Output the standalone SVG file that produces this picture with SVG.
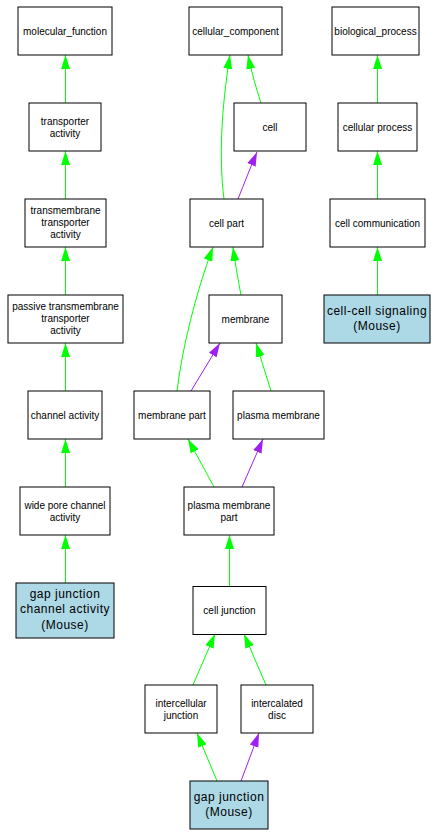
<svg xmlns="http://www.w3.org/2000/svg" width="438" height="836" viewBox="0 0 438 836">
<style>
.n rect{fill:#ffffff;stroke:#000000;stroke-width:1}
.m rect{fill:#add8e6;stroke:#000000;stroke-width:1}
.n text{font-family:"Liberation Sans",Arial,sans-serif;font-size:10px;fill:#000000;text-anchor:middle}
.m text{font-family:"Liberation Sans",Arial,sans-serif;font-size:12px;letter-spacing:0.5px;fill:#000000;text-anchor:middle}
.g{fill:none;stroke:#00ff00;stroke-width:1;marker-end:url(#ag)}
.p{fill:none;stroke:#a020f0;stroke-width:1;marker-end:url(#ap)}
</style>
<defs>
<marker id="ag" markerUnits="userSpaceOnUse" markerWidth="16" markerHeight="12" refX="14" refY="5" orient="auto" viewBox="0 0 16 10">
<path d="M0,0.5 L14,5 L0,9.5 Z" fill="#00ff00"/>
</marker>
<marker id="ap" markerUnits="userSpaceOnUse" markerWidth="16" markerHeight="12" refX="14" refY="5" orient="auto" viewBox="0 0 16 10">
<path d="M0,0.5 L14,5 L0,9.5 Z" fill="#a020f0"/>
</marker>
</defs>
<rect x="0" y="0" width="438" height="836" fill="#ffffff"/>
<g id="connectors">
<path class="g" d="M65.5,103 L65.5,55"/>
<path class="g" d="M65.5,199 L65.5,151"/>
<path class="g" d="M65.5,295 L65.5,247"/>
<path class="g" d="M65.5,391 L65.5,343"/>
<path class="g" d="M65.5,487 L65.5,439"/>
<path class="g" d="M65.5,583 L65.5,535"/>
<path class="g" d="M377.5,103 L377.5,55"/>
<path class="g" d="M377.5,199 L377.5,151"/>
<path class="g" d="M377.5,295 L377.5,247"/>
<path class="g" d="M224,199 C219,160 221,110 230,55"/>
<path class="g" d="M261,103 C256,88 251,70 248,55"/>
<path class="p" d="M238,199 C244,184 251,166 257,152"/>
<path class="g" d="M177,391 C182,350 195,295 213,247"/>
<path class="g" d="M241,295 C238,280 235,262 233,247"/>
<path class="p" d="M191,391 L220,343"/>
<path class="g" d="M271,391 L256,343"/>
<path class="g" d="M214,487 L188,439"/>
<path class="p" d="M242,487 L263,439"/>
<path class="g" d="M229.5,586 L229.5,535"/>
<path class="g" d="M193,685 L215,634"/>
<path class="g" d="M266,685 L244,634"/>
<path class="g" d="M217,781 L197,733"/>
<path class="p" d="M241,781 L259,733"/>
</g>
<g id="molecular_function" class="n"><rect x="18" y="7" width="94" height="48"/><text x="65" y="35">molecular_function</text></g>
<g id="transporter_activity" class="n"><rect x="29" y="103" width="72" height="48"/><text x="65" y="124.5">transporter</text><text x="65" y="136.5">activity</text></g>
<g id="transmembrane_transporter_activity" class="n"><rect x="25" y="199" width="81" height="48"/><text x="65.5" y="214">transmembrane</text><text x="65.5" y="226">transporter</text><text x="65.5" y="238">activity</text></g>
<g id="passive_transmembrane_transporter_activity" class="n"><rect x="8" y="295" width="115" height="48"/><text x="65.5" y="310">passive transmembrane</text><text x="65.5" y="322">transporter</text><text x="65.5" y="334">activity</text></g>
<g id="channel_activity" class="n"><rect x="28" y="391" width="74" height="48"/><text x="65" y="418.5">channel activity</text></g>
<g id="wide_pore_channel_activity" class="n"><rect x="20" y="487" width="90" height="48"/><text x="65" y="508.5">wide pore channel</text><text x="65" y="520.5">activity</text></g>
<g id="gap_junction_channel_activity" class="m"><rect x="16" y="583" width="98" height="55"/><text x="65" y="597.5">gap junction</text><text x="65" y="613">channel activity</text><text x="65" y="628.5">(Mouse)</text></g>
<g id="cellular_component" class="n"><rect x="189" y="7" width="93" height="48"/><text x="235.5" y="35">cellular_component</text></g>
<g id="cell" class="n"><rect x="234" y="103" width="72" height="48"/><text x="270" y="130.5">cell</text></g>
<g id="cell_part" class="n"><rect x="190" y="199" width="73" height="48"/><text x="226.5" y="226.5">cell part</text></g>
<g id="membrane" class="n"><rect x="209" y="295" width="73" height="48"/><text x="245.5" y="322.5">membrane</text></g>
<g id="membrane_part" class="n"><rect x="134" y="391" width="76" height="48"/><text x="172" y="418.5">membrane part</text></g>
<g id="plasma_membrane" class="n"><rect x="233" y="391" width="91" height="48"/><text x="278.5" y="418.5">plasma membrane</text></g>
<g id="plasma_membrane_part" class="n"><rect x="184" y="487" width="90" height="48"/><text x="229" y="508.5">plasma membrane</text><text x="229" y="520.5">part</text></g>
<g id="cell_junction" class="n"><rect x="193" y="586.5" width="73" height="48"/><text x="229.5" y="614">cell junction</text></g>
<g id="intercellular_junction" class="n"><rect x="145" y="685" width="72" height="48"/><text x="181" y="706.5">intercellular</text><text x="181" y="718.5">junction</text></g>
<g id="intercalated_disc" class="n"><rect x="241" y="685" width="72" height="48"/><text x="277" y="706.5">intercalated</text><text x="277" y="718.5">disc</text></g>
<g id="gap_junction" class="m"><rect x="190" y="781" width="78" height="48"/><text x="229" y="801">gap junction</text><text x="229" y="816">(Mouse)</text></g>
<g id="biological_process" class="n"><rect x="332" y="7" width="87" height="48"/><text x="375.5" y="35">biological_process</text></g>
<g id="cellular_process" class="n"><rect x="338" y="103" width="79" height="48"/><text x="377.5" y="130.5">cellular process</text></g>
<g id="cell_communication" class="n"><rect x="330" y="199" width="95" height="48"/><text x="377.5" y="226.5">cell communication</text></g>
<g id="cell_cell_signaling" class="m"><rect x="324" y="295" width="106" height="48"/><text x="377" y="315">cell-cell signaling</text><text x="377" y="330">(Mouse)</text></g>
</svg>
